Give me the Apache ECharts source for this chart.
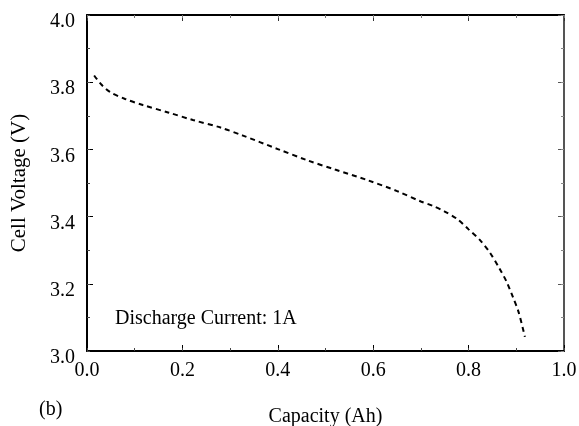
<!DOCTYPE html>
<html>
<head>
<meta charset="utf-8">
<script src="https://cdn.jsdelivr.net/npm/echarts@6/dist/echarts.min.js"></script>
<style>
  html, body { margin: 0; padding: 0; background: #fff; }
  #chart { width: 579px; height: 426px; }
</style>
</head>
<body>
<div id="chart"></div>
<script>
// capacity (Ah) and cell voltage (V)
var capacity = [0.015, 0.03, 0.048, 0.08, 0.117, 0.17, 0.222, 0.28, 0.327, 0.4, 0.461, 0.52, 0.587, 0.65, 0.70, 0.725, 0.75, 0.776, 0.80, 0.824, 0.845, 0.865, 0.88, 0.893, 0.905, 0.918];
var voltage  = [3.82, 3.793, 3.771, 3.75, 3.732, 3.71, 3.6875, 3.665, 3.641, 3.601, 3.568, 3.54, 3.509, 3.476, 3.445, 3.432, 3.415, 3.393, 3.362, 3.33, 3.292, 3.245, 3.205, 3.16, 3.115, 3.042];

var curve = [];
for (var i = 0; i < capacity.length; i++) {
    curve.push([capacity[i], voltage[i]]);
}

var font = 'Liberation Serif';
var myChart = echarts.init(document.getElementById('chart'));

function tick(color, len) {
    return { show: true, inside: true, length: len, lineStyle: { color: color, width: 1 } };
}
// extra axes that only draw the short 0.1 ticks
function minorX(pos, color) {
    return {
        type: 'value', position: pos, min: 0, max: 1, interval: 0.1,
        axisLine: { show: false, onZero: false }, axisTick: tick(color, 3),
        splitLine: { show: false }, axisLabel: { show: false }
    };
}
function minorY(pos, color) {
    return {
        type: 'value', position: pos, min: 3.0, max: 4.0, interval: 0.1,
        axisLine: { show: false, onZero: false }, axisTick: tick(color, 3),
        splitLine: { show: false }, axisLabel: { show: false }
    };
}

var option = {
    backgroundColor: '#fff',
    animation: false,
    grid: { left: 87, top: 15, right: 15, bottom: 75, outerBoundsMode: 'none' },
    xAxis: [
        {
            type: 'value',
            min: 0, max: 1, interval: 0.2,
            name: 'Capacity (Ah)',
            nameLocation: 'middle',
            nameGap: 56,
            nameTextStyle: { fontFamily: font, fontSize: 20, color: '#000' },
            axisLine: { onZero: false, lineStyle: { color: '#000', width: 2 } },
            axisTick: tick('#000', 6),
            splitLine: { show: false },
            axisLabel: {
                margin: 10, color: '#000', fontFamily: font, fontSize: 20,
                formatter: function (v) { return v.toFixed(1); }
            }
        },
        {
            type: 'value', position: 'top',
            min: 0, max: 1, interval: 0.2,
            axisLine: { show: true, onZero: false, lineStyle: { color: '#000', width: 2 } },
            axisTick: tick('#333', 6),
            splitLine: { show: false },
            axisLabel: { show: false }
        },
        minorX('bottom', '#444'),
        minorX('top', '#777')
    ],
    yAxis: [
        {
            type: 'value',
            min: 3.0, max: 4.0, interval: 0.2,
            name: 'Cell Voltage (V)',
            nameLocation: 'middle',
            nameGap: 57,
            nameTextStyle: { fontFamily: font, fontSize: 21, color: '#000' },
            axisLine: { show: true, onZero: false, lineStyle: { color: '#000', width: 2 } },
            axisTick: tick('#000', 6),
            splitLine: { show: false },
            axisLabel: {
                margin: 12, color: '#000', fontFamily: font, fontSize: 20,
                verticalAlign: 'top', lineHeight: 14,
                formatter: function (v) { return v.toFixed(1); }
            }
        },
        {
            type: 'value', position: 'right',
            min: 3.0, max: 4.0, interval: 0.2,
            axisLine: { show: true, onZero: false, lineStyle: { color: '#555', width: 2 } },
            axisTick: tick('#555', 6),
            splitLine: { show: false },
            axisLabel: { show: false }
        },
        minorY('left', '#444'),
        minorY('right', '#888')
    ],
    graphic: [
        {
            type: 'text', left: 115, top: 309,
            style: { text: 'Discharge Current: 1A', fontFamily: font, fontSize: 20, fill: '#000' }
        },
        {
            type: 'text', left: 39, top: 400,
            style: { text: '(b)', fontFamily: font, fontSize: 20, fill: '#000' }
        }
    ],
    series: [
        {
            type: 'line',
            xAxisIndex: 0,
            yAxisIndex: 0,
            showSymbol: false,
            smooth: 0.3,
            lineStyle: { color: '#000', width: 2, type: [5, 4] },
            data: curve
        }
    ]
};

myChart.setOption(option);
</script>
</body>
</html>
